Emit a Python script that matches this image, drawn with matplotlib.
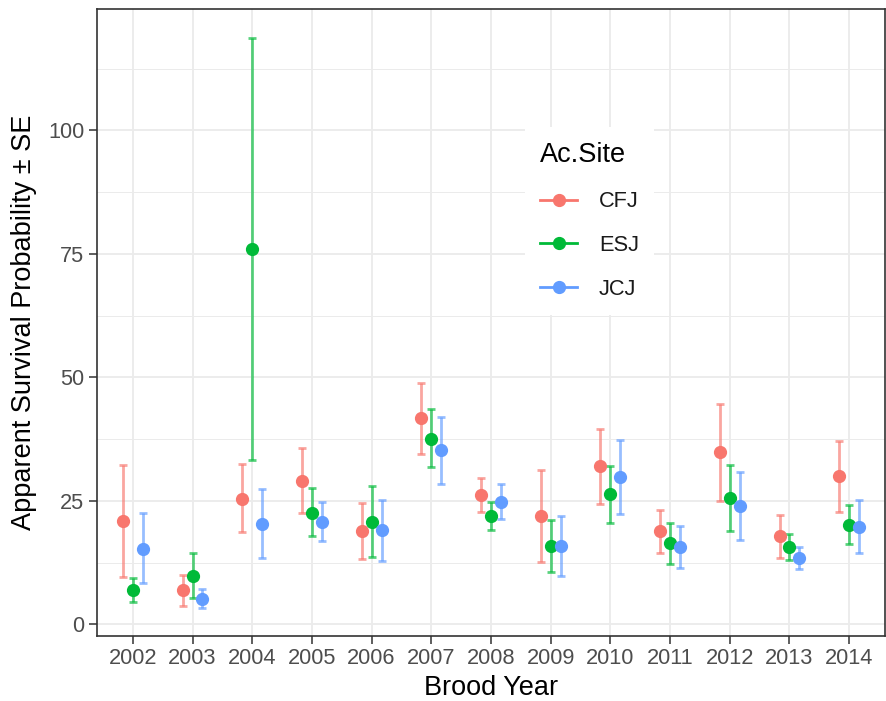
import matplotlib.pyplot as plt
import numpy as np
from matplotlib.lines import Line2D

plt.rcParams['font.family'] = ['Liberation Sans', 'DejaVu Sans']

years = ['2002', '2003', '2004', '2005', '2006', '2007', '2008',
         '2009', '2010', '2011', '2012', '2013', '2014']
sites = ['CFJ', 'ESJ', 'JCJ']
colors = ['#F8766D', '#00BA38', '#619CFF']

# estimates with lower / upper limits (estimate -/+ SE)
cfj = [20.9, 6.9, 25.4, 29.0, 18.9, 41.7, 26.1, 22.0, 32.0, 18.8, 34.8, 17.9, 30.1]
cfj_lo = [9.5, 3.8, 18.6, 22.5, 13.2, 34.4, 22.7, 12.6, 24.4, 14.4, 25.0, 13.5, 22.7]
cfj_hi = [32.3, 9.9, 32.4, 35.6, 24.6, 48.9, 29.7, 31.2, 39.5, 23.1, 44.7, 22.2, 37.2]

esj = [7.0, 9.8, 76.0, 22.6, 20.8, 37.6, 22.0, 15.9, 26.3, 16.4, 25.6, 15.7, 20.2]
esj_lo = [4.6, 5.3, 33.3, 17.8, 13.6, 31.8, 19.0, 10.6, 20.6, 12.2, 18.9, 13.0, 16.2]
esj_hi = [9.4, 14.4, 118.8, 27.6, 28.1, 43.6, 24.8, 21.2, 32.1, 20.5, 32.2, 18.3, 24.2]

jcj = [15.3, 5.1, 20.3, 20.8, 19.0, 35.2, 24.8, 15.9, 29.9, 15.6, 24.0, 13.4, 19.7]
jcj_lo = [8.4, 3.4, 13.4, 16.9, 12.8, 28.5, 21.3, 9.8, 22.4, 11.4, 17.1, 11.1, 14.4]
jcj_hi = [22.6, 7.1, 27.3, 24.8, 25.1, 42.0, 28.5, 21.9, 37.4, 19.9, 30.8, 15.6, 25.1]

series = [(cfj, cfj_lo, cfj_hi), (esj, esj_lo, esj_hi), (jcj, jcj_lo, jcj_hi)]

fig = plt.figure(figsize=(8.87, 7.01), dpi=100)
ax = fig.add_axes([97 / 887, 1 - 636 / 701, 788 / 887, 627 / 701])

x = np.arange(len(years))
offsets = [-1 / 6, 0, 1 / 6]

for (est, lo, hi), col, off in zip(series, colors, offsets):
    est = np.array(est)
    err = [est - np.array(lo), np.array(hi) - est]
    ax.errorbar(x + off, est, yerr=err, fmt='none', ecolor=col, alpha=0.65,
                elinewidth=2, capsize=2.6, capthick=2, zorder=3)
    ax.plot(x + off, est, 'o', color=col, markersize=8.5, zorder=4)

ax.set_xlim(-0.6, 12.6)
ax.set_ylim(-2.37, 124.6)
ax.set_xticks(x)
ax.set_xticklabels(years)
ax.set_yticks([0, 25, 50, 75, 100])
ax.set_yticks([12.5, 37.5, 62.5, 87.5, 112.5], minor=True)

ax.grid(which='major', color='#EBEBEB', linewidth=1.3, zorder=0)
ax.grid(which='minor', axis='y', color='#EBEBEB', linewidth=0.7, zorder=0)
ax.set_axisbelow(True)
ax.tick_params(axis='both', which='major', labelsize=15.7, labelcolor='#4D4D4D',
               color='#333333', length=5.5, width=1.1)
ax.tick_params(axis='y', which='minor', length=0)
for s in ax.spines.values():
    s.set_color('#333333')
    s.set_linewidth(1.2)

ax.set_xlabel('Brood Year', fontsize=19.5, labelpad=4)
ax.set_ylabel('Apparent Survival Probability \u00b1 SE', fontsize=19.5, labelpad=8)

handles = [Line2D([], [], color=c, marker='o', markersize=8.5, linewidth=2)
           for c in colors]
leg = ax.legend(handles, sites, title='Ac.Site', loc='upper left',
                bbox_to_anchor=(525 / 887, 1 - 127 / 701),
                bbox_transform=fig.transFigure, borderaxespad=0, fontsize=15.7,
                title_fontsize=19.5, frameon=True, fancybox=False,
                edgecolor='none', facecolor='white', framealpha=1,
                handlelength=1.7, handletextpad=1.0, labelspacing=1.05,
                borderpad=0.7, alignment='left')
for t in leg.get_texts():
    t.set_color('#1A1A1A')

fig.savefig('out.png', dpi=100)
